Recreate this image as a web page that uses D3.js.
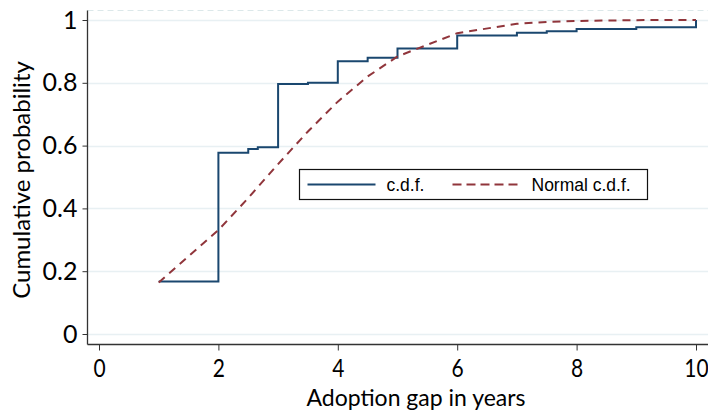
<!DOCTYPE html>
<html>
<head>
<meta charset="utf-8">
<script src="https://cdn.jsdelivr.net/npm/d3@7"></script>
<style>
  body { margin: 0; background: #fff; }
  svg { display: block; }
</style>
</head>
<body>
<div id="chart"></div>
<script>
// observed adoption gaps (years) where the c.d.f. steps
const gapYears = [1, 2, 2.5, 2.66, 3, 3.5, 4, 4.5, 5, 6, 7, 7.5, 8, 9, 10];
// empirical c.d.f. at each gap
const cdfValues = [0.167, 0.577, 0.589, 0.595, 0.796, 0.800, 0.869, 0.880, 0.909, 0.951, 0.959, 0.964, 0.971, 0.977, 1.0];
// fitted normal c.d.f.
const normalValues = [0.164, 0.331, 0.433, 0.468, 0.541, 0.645, 0.740, 0.820, 0.884, 0.958, 0.988, 0.994, 0.997, 0.9996, 1.0];

const xTicks = [0, 2, 4, 6, 8, 10];
const yTicks = [0, 0.2, 0.4, 0.6, 0.8, 1];
const yTickLabels = ['0', '0.2', '0.4', '0.6', '0.8', '1'];

const config_size = {
  svg_width: 708,
  svg_height: 416,
};

const svg = d3.select('#chart').append('svg')
  .attr('width', config_size.svg_width)
  .attr('height', config_size.svg_height);

const data = gapYears.map((g, i) => ({ gap: g, cdf: cdfValues[i], normal: normalValues[i] }));

const x = d3.scaleLinear().domain([0, 10]).range([99, 696]);
const y = d3.scaleLinear().domain([0, 1]).range([334, 20]);

const axisX = 87.5;      // y axis line position
const axisY = 344.5;     // x axis line position
const plotTop = 10.5;
const plotRight = 708;

// top border of plot region (light dashed)
svg.append('line')
  .attr('x1', axisX).attr('x2', plotRight)
  .attr('y1', plotTop).attr('y2', plotTop)
  .attr('stroke', '#dce8ea')
  .attr('stroke-dasharray', '6,4')
  .attr('stroke-width', 1);

// gridlines
svg.append('g')
  .selectAll('line')
  .data(yTicks)
  .join('line')
  .attr('x1', axisX).attr('x2', plotRight)
  .attr('y1', d => Math.round(y(d)) + 0.5)
  .attr('y2', d => Math.round(y(d)) + 0.5)
  .attr('stroke', '#e8f0f3')
  .attr('stroke-width', 1.5);

// y axis
const yAxis = svg.append('g')
  .attr('transform', `translate(${axisX},0)`)
  .call(d3.axisLeft(y).tickValues(yTicks).tickSize(5).tickPadding(5)
    .tickFormat((d, i) => yTickLabels[i]));
yAxis.select('.domain').remove();
yAxis.selectAll('.tick line').attr('stroke', '#333');
yAxis.selectAll('.tick text')
  .style('font-family', 'Lato, sans-serif')
  .style('font-size', '25px')
  .attr('fill', '#000');

svg.append('line')
  .attr('x1', axisX).attr('x2', axisX)
  .attr('y1', plotTop).attr('y2', axisY)
  .attr('stroke', '#333').attr('stroke-width', 1.3);

// x axis
const xAxis = svg.append('g')
  .attr('transform', `translate(0,${axisY})`)
  .call(d3.axisBottom(x).tickValues(xTicks).tickSize(6).tickPadding(9)
    .tickFormat(d3.format('d')));
xAxis.select('.domain').remove();
xAxis.selectAll('.tick line').attr('stroke', '#333');
// narrower digits, closer to the reference face
xAxis.selectAll('.tick text')
  .style('font-family', 'Lato, sans-serif')
  .style('font-size', '25px')
  .attr('transform', 'scale(0.84,1)')
  .attr('fill', '#000');

svg.append('line')
  .attr('x1', axisX).attr('x2', plotRight)
  .attr('y1', axisY).attr('y2', axisY)
  .attr('stroke', '#333').attr('stroke-width', 1.3);

// axis titles
svg.append('text')
  .attr('x', 416).attr('y', 406)
  .attr('text-anchor', 'middle')
  .style('font-family', 'Lato, sans-serif')
  .style('font-size', '23px')
  .text('Adoption gap in years');

svg.append('text')
  .attr('transform', 'translate(30,180) rotate(-90)')
  .attr('text-anchor', 'middle')
  .style('font-family', 'Lato, sans-serif')
  .style('font-size', '24px')
  .text('Cumulative probability');

// empirical c.d.f. (step after)
svg.append('path')
  .datum(data)
  .attr('fill', 'none')
  .attr('stroke', '#1a476f')
  .attr('stroke-width', 2)
  .attr('d', d3.line()
    .curve(d3.curveStepAfter)
    .x(d => x(d.gap))
    .y(d => y(d.cdf)));

// normal c.d.f.
svg.append('path')
  .datum(data)
  .attr('fill', 'none')
  .attr('stroke', '#90353b')
  .attr('stroke-width', 2)
  .attr('stroke-dasharray', '8,6')
  .attr('d', d3.line()
    .x(d => x(d.gap))
    .y(d => y(d.normal)));

// legend
const legend = svg.append('g').attr('transform', 'translate(299.5,169.5)');
legend.append('rect')
  .attr('width', 348).attr('height', 30)
  .attr('fill', '#fff')
  .attr('stroke', '#111')
  .attr('stroke-width', 1.2);
legend.append('line')
  .attr('x1', 8).attr('x2', 76).attr('y1', 15).attr('y2', 15)
  .attr('stroke', '#1a476f').attr('stroke-width', 2);
legend.append('text')
  .attr('x', 87).attr('y', 21)
  .style('font-family', '"Liberation Sans", Arial, sans-serif')
  .style('font-size', '17.5px')
  .text('c.d.f.');
legend.append('line')
  .attr('x1', 153).attr('x2', 221).attr('y1', 15).attr('y2', 15)
  .attr('stroke', '#90353b').attr('stroke-width', 2)
  .attr('stroke-dasharray', '9,5');
legend.append('text')
  .attr('x', 232).attr('y', 21)
  .style('font-family', '"Liberation Sans", Arial, sans-serif')
  .style('font-size', '17.5px')
  .text('Normal c.d.f.');
</script>
</body>
</html>
